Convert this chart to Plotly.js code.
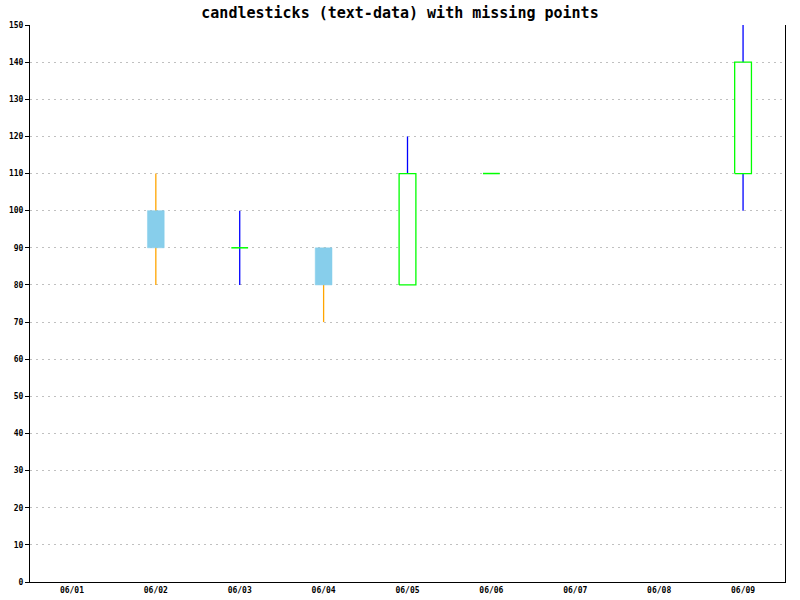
<!DOCTYPE html>
<html>
<head>
<meta charset="utf-8">
<script src="https://cdn.plot.ly/plotly-3.0.1.min.js"></script>
<style>html,body{margin:0;padding:0;background:#fff;}#chart{width:800px;height:600px;}</style>
</head>
<body>
<div id="chart"></div>
<script>
const dates = ['06/01','06/02','06/03','06/04','06/05','06/06','06/07','06/08','06/09'];
const openVals  = [null, 100, 90, 90, 80, 110, null, null, 110];
const closeVals = [null, 90, 90, 80, 110, 110, null, null, 140];
const highVals  = [null, 110, 100, 90, 120, 110, null, null, 150];
const lowVals   = [null, 80, 80, 70, 80, 110, null, null, 100];

const upWhisker = '#0000ff', downWhisker = '#ffa500';
const upBox = '#00ff00', downFill = '#87ceeb';
const half = 0.1;
const idx = dates.map((d, i) => i);

const traces = [];
// whiskers
const wUp = {x: [], y: []}, wDown = {x: [], y: []};
idx.forEach(i => {
  if (openVals[i] == null) return;
  const w = closeVals[i] >= openVals[i] ? wUp : wDown;
  w.x.push(i, i, null);
  w.y.push(lowVals[i], highVals[i], null);
});
traces.push({type: 'scatter', mode: 'lines', x: wUp.x, y: wUp.y, line: {color: upWhisker, width: 1.3}, hoverinfo: 'skip', showlegend: false});
traces.push({type: 'scatter', mode: 'lines', x: wDown.x, y: wDown.y, line: {color: downWhisker, width: 1.3}, hoverinfo: 'skip', showlegend: false});
// boxes
idx.forEach(i => {
  const o = openVals[i], c = closeVals[i];
  if (o == null) return;
  if (o === c) {
    traces.push({type: 'scatter', mode: 'lines', x: [i - half, i + half], y: [o, c],
      line: {color: upBox, width: 1.5}, hoverinfo: 'skip', showlegend: false});
    return;
  }
  const lo = Math.min(o, c), hi = Math.max(o, c);
  const up = c > o;
  traces.push({type: 'scatter', mode: 'lines', fill: 'toself',
    x: [i - half, i + half, i + half, i - half, i - half],
    y: [lo, lo, hi, hi, lo],
    fillcolor: up ? '#ffffff' : downFill,
    line: {color: up ? upBox : downFill, width: up ? 1.3 : 0.5},
    hoverinfo: 'skip', showlegend: false});
});

const font = {family: '"DejaVu Sans Mono", "Liberation Mono", monospace', color: '#000'};
const layout = {
  width: 800, height: 600,
  margin: {l: 30, r: 15, t: 25, b: 18, pad: 0},
  paper_bgcolor: '#fff', plot_bgcolor: '#fff',
  showlegend: false,
  title: {text: '<b>candlesticks (text-data) with missing points</b>', x: 0.5, xanchor: 'center', y: 0.978, yanchor: 'middle',
    font: Object.assign({size: 15}, font)},
  xaxis: {
    range: [-0.5, 8.5], tickmode: 'array', tickvals: idx, ticktext: dates,
    showgrid: false, zeroline: false, showline: true, linecolor: '#000', linewidth: 1,
    ticks: '', tickfont: Object.assign({size: 8, weight: 'bold'}, font), fixedrange: true
  },
  yaxis: {
    range: [0, 150], dtick: 10, tick0: 0,
    showgrid: true, gridcolor: '#c0c0c0', griddash: '2px,4px', gridwidth: 1,
    zeroline: false, showline: true, linecolor: '#000', linewidth: 1, mirror: true,
    ticks: 'outside', ticklen: 4, tickcolor: '#000', tickfont: Object.assign({size: 8, weight: 'bold'}, font),
    fixedrange: true
  }
};
Plotly.newPlot('chart', traces, layout, {displayModeBar: false, staticPlot: true});
</script>
</body>
</html>
